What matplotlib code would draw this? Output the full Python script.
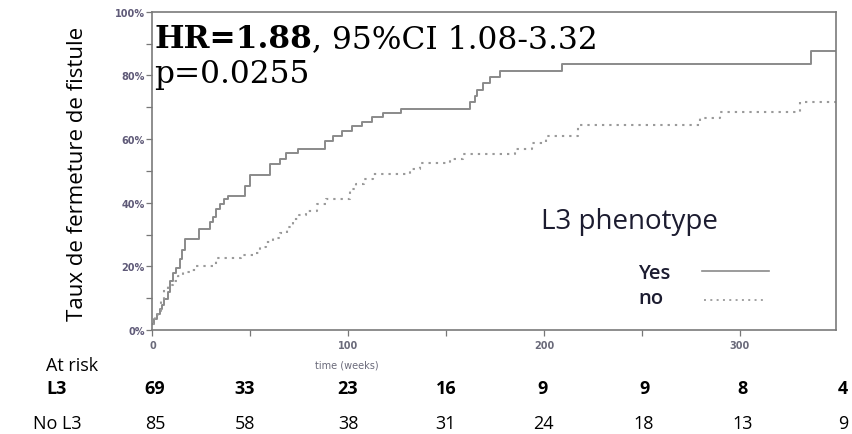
import matplotlib
matplotlib.use("Agg")
import matplotlib.pyplot as plt
from matplotlib.ticker import MultipleLocator, FuncFormatter

# ---- data ----
l3_times = [0, 1, 2.5, 3.6, 5, 6, 7.8, 9, 10.4, 12, 13.8, 15, 16.4, 24, 29.2, 31, 32.6,
            34.5, 36.5, 38.5, 47, 49.6, 59.8, 65, 68.4, 74.3, 88, 92, 97, 102, 107, 112,
            118, 127, 162, 164.7, 166, 169, 172.4, 177.5, 209, 336.6, 349]
l3_vals = [2, 3.4, 5, 6.6, 8, 9.7, 12, 15.5, 17.9, 19.5, 22.3, 25, 28.5, 31.7, 33.8, 35.5,
           37.9, 39.5, 41, 42.1, 45.2, 48.6, 52, 53.8, 55.5, 57, 59.5, 61, 62.5, 64, 65.5,
           67, 68.2, 69.3, 71.5, 73.4, 75.5, 77.6, 79.5, 81.5, 83.7, 87.8, 87.8]

nol3_times = [0, 1.5, 3, 4.5, 6.1, 8, 10.4, 13, 15.5, 19, 22.3, 32.6, 45, 51.3, 55, 58.2,
              61.5, 65, 68.5, 71.8, 75, 78.6, 84, 88.8, 100.8, 104, 108, 112.7, 131.5,
              136.6, 152, 158.6, 185, 193.7, 201, 217.6, 279.8, 290, 331, 349]
nol3_vals = [2, 4, 6, 9, 12.8, 14, 15.5, 17, 18.1, 19, 20.2, 22.5, 23.5, 24.3, 26, 27.5,
             29, 30.6, 32.5, 34.8, 36, 37.4, 39.5, 41.3, 44.4, 46, 47.5, 48.9, 50.5, 52.4,
             53.6, 55.4, 57, 58.8, 60.9, 64.3, 66.7, 68.4, 71.7, 71.7]

risk_groups = ["L3", "No L3"]
risk_l3 = [69, 33, 23, 16, 9, 9, 8, 4]
risk_nol3 = [85, 58, 38, 31, 24, 18, 13, 9]

W, H = 853, 435
fig = plt.figure(figsize=(W / 100, H / 100), dpi=100)
ax = fig.add_axes([152.5 / W, 1 - 331 / H, (835.7 - 152.5) / W, (331 - 12.7) / H])


def fx(px):
    return px / W


def fy(py):
    return 1 - py / H


line_col = "#8a8a8a"
dot_col = "#9a9a9a"
dot_style = (0, (1.1, 2.4))
ax.step(l3_times, l3_vals, where="post", color=line_col, lw=1.4)
ax.step(nol3_times, nol3_vals, where="post", color=dot_col, lw=1.5, linestyle=dot_style)

ax.set_xlim(0, 349)
ax.set_ylim(0, 100)
ax.xaxis.set_major_locator(MultipleLocator(100))
ax.xaxis.set_minor_locator(MultipleLocator(50))
ax.yaxis.set_major_locator(MultipleLocator(20))
ax.yaxis.set_minor_locator(MultipleLocator(10))
ax.yaxis.set_major_formatter(FuncFormatter(lambda v, p: f"{int(v)}%"))
ax.tick_params(axis="both", which="both", direction="out", length=4, width=0.9,
               color="#777777")
ax.tick_params(axis="y", labelsize=7, labelcolor="#5f5a78", pad=1.5)
ax.tick_params(axis="x", labelsize=7, labelcolor="#6a6a7a", pad=3)
for lab in ax.get_yticklabels() + ax.get_xticklabels():
    lab.set_fontweight("bold")
for s in ax.spines.values():
    s.set_color("#7a7a7a")
    s.set_linewidth(1.2)

# y label
fig.text(fx(78), fy(173.5), "Taux de fermeture de fistule", fontsize=16,
         family="Open Sans", rotation=90, ha="center", va="center")

# HR annotation (bold part + regular part on one line)
serif = "DejaVu Serif"
hr_size = 22.5
t1 = fig.text(fx(154), fy(48.3), "HR=1.88", fontsize=hr_size, family=serif,
              weight="bold", va="baseline", ha="left")
fig.canvas.draw()
bb = t1.get_window_extent()
fig.text(bb.x1 / W, fy(48.3), ", 95%CI 1.08-3.32", fontsize=hr_size, family=serif,
         va="baseline", ha="left")
fig.text(fx(154), fy(83.3), "p=0.0255", fontsize=hr_size, family=serif,
         va="baseline", ha="left")

# legend
leg_col = "#1c1c30"
fig.text(fx(541), fy(222), "L3 phenotype", fontsize=20, family="Open Sans",
         color=leg_col, va="center", ha="left")
fig.text(fx(638), fy(274), "Yes", fontsize=14.5, family="Open Sans", weight="semibold",
         color=leg_col, va="center", ha="left")
fig.text(fx(638), fy(299), "no", fontsize=14.5, family="Open Sans", weight="semibold",
         color=leg_col, va="center", ha="left")
fig.add_artist(plt.Line2D([fx(702), fx(769)], [fy(272), fy(272)], color=line_col, lw=1.2))
fig.add_artist(plt.Line2D([fx(704), fx(766)], [fy(301), fy(301)], color=dot_col, lw=1.3,
                          linestyle=dot_style))

# x label and at-risk table
fig.text(fx(347), fy(366), "time (weeks)", fontsize=7, color="#6a6a7a",
         ha="center", va="center")
fig.text(fx(46), fy(366), "At risk", fontsize=13, family="Open Sans",
         ha="left", va="center")
col_x = [155, 245, 348, 446, 543, 644, 743, 843]
row_y = [389, 424]
label_x = [57, 57]
for gi, (g, vals) in enumerate(zip(risk_groups, [risk_l3, risk_nol3])):
    w = "bold" if gi == 0 else "normal"
    fig.text(fx(label_x[gi]), fy(row_y[gi]), g, fontsize=13, family="Open Sans",
             weight=w, ha="center", va="center")
    for cx, v in zip(col_x, vals):
        fig.text(fx(cx), fy(row_y[gi]), str(v), fontsize=13, family="Open Sans",
                 weight=w, ha="center", va="center")

fig.savefig("out.png", dpi=100)
